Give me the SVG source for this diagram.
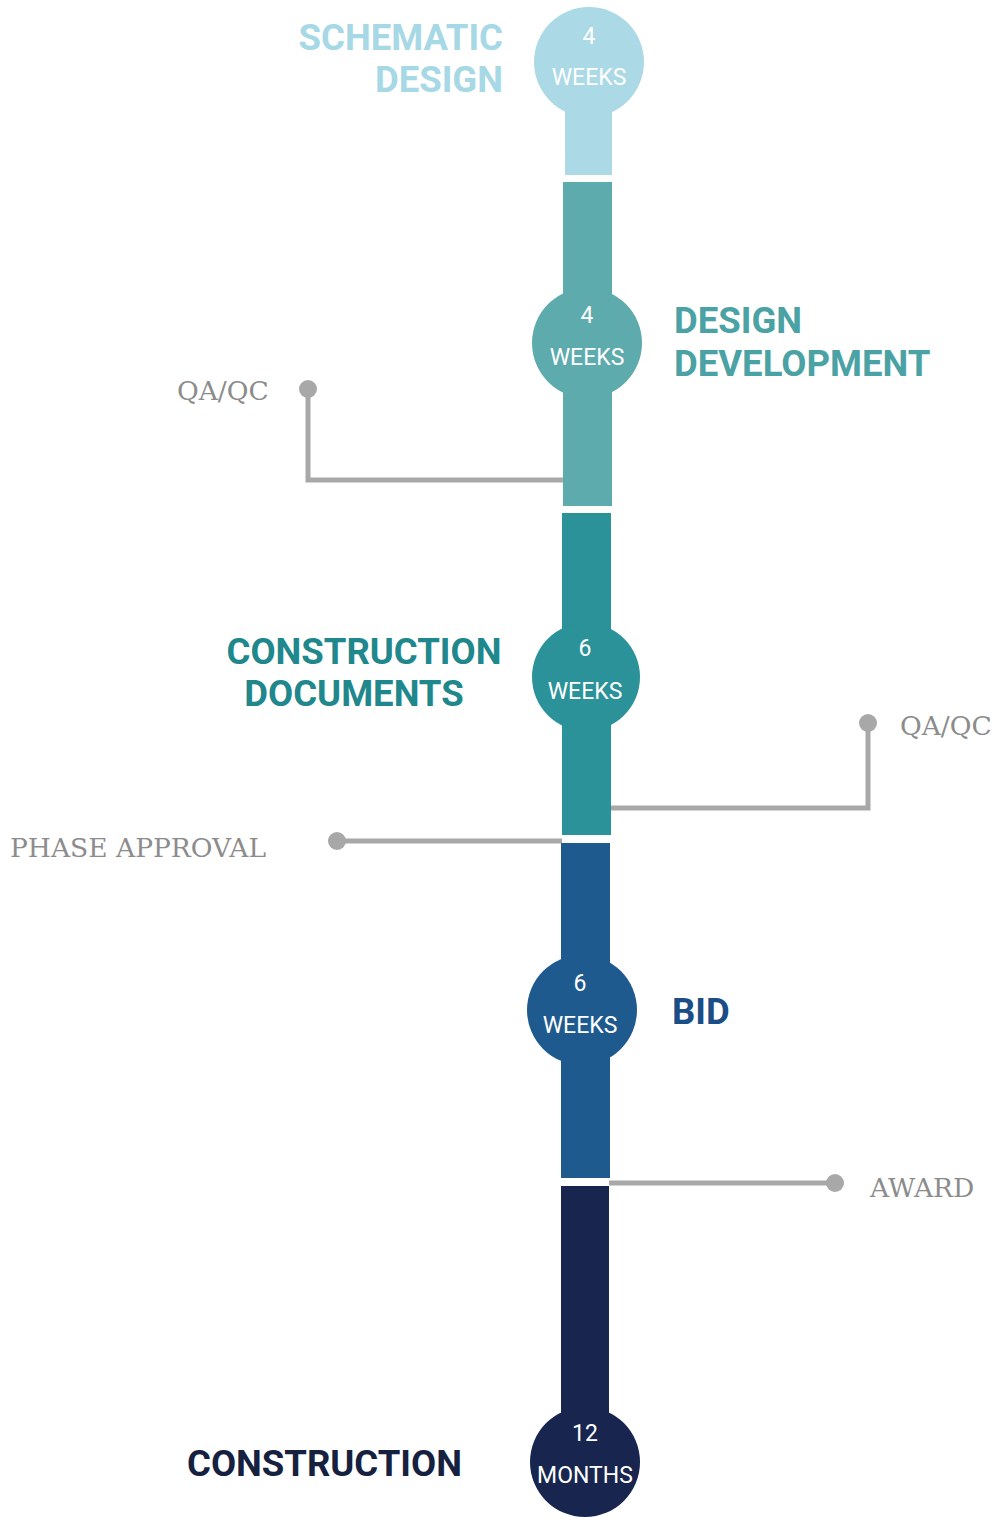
<svg xmlns="http://www.w3.org/2000/svg" width="994" height="1517" viewBox="0 0 994 1517">
<style>
.h{font-family:Roboto,"Liberation Sans",sans-serif;font-weight:700;font-size:36.5px}
.c{font-family:Roboto,"Liberation Sans",sans-serif;font-weight:400;font-size:23px;fill:#fff;text-anchor:middle}
.m{font-family:"DejaVu Serif","Liberation Serif",serif;font-weight:300;font-size:26.5px;fill:#8c8c8c}
.ln{fill:none;stroke:#a8a8a8;stroke-width:5}
.dot{fill:#a8a8a8}
</style>
<rect width="994" height="1517" fill="#fff"/>
<g id="connectors">
<path class="ln" d="M308,389 V480 H564"/>
<circle class="dot" cx="308" cy="389" r="9"/>
<path class="ln" d="M868,723 V808 H610"/>
<circle class="dot" cx="868" cy="723" r="9"/>
<path class="ln" d="M337,841 H562"/>
<circle class="dot" cx="337" cy="841" r="9"/>
<path class="ln" d="M609,1183 H835"/>
<circle class="dot" cx="835" cy="1183" r="9"/>
</g>
<g id="schematic">
<rect x="565" y="60" width="47" height="115" fill="#abd9e6"/>
<circle cx="589" cy="62" r="55" fill="#abd9e6"/>
<text class="c" x="589" y="44">4</text>
<text class="c" x="589" y="85">WEEKS</text>
<text class="h" x="503" y="50" text-anchor="end" fill="#a6d8e5" font-weight="500">SCHEMATIC</text>
<text class="h" x="503" y="92" text-anchor="end" fill="#a6d8e5" font-weight="500">DESIGN</text>
</g>
<g id="design-development">
<rect x="563" y="182" width="49" height="324" fill="#5eabad"/>
<circle cx="587" cy="343" r="55" fill="#5eabad"/>
<text class="c" x="587" y="323">4</text>
<text class="c" x="587" y="365">WEEKS</text>
<text class="h" x="674" y="333" fill="#4aa2a5" font-weight="500">DESIGN</text>
<text class="h" x="674" y="376" fill="#4aa2a5" font-weight="500">DEVELOPMENT</text>
</g>
<g id="construction-documents">
<rect x="562" y="513" width="49" height="322" fill="#2a9298"/>
<circle cx="586" cy="677" r="54" fill="#2a9298"/>
<text class="c" x="585" y="656">6</text>
<text class="c" x="585" y="699">WEEKS</text>
<text class="h" x="364" y="664" text-anchor="middle" fill="#20878c">CONSTRUCTION</text>
<text class="h" x="354" y="706" text-anchor="middle" fill="#20878c">DOCUMENTS</text>
</g>
<g id="bid">
<rect x="561" y="843" width="49" height="335" fill="#1f5a8f"/>
<circle cx="582" cy="1010" r="55" fill="#1f5a8f"/>
<text class="c" x="580" y="991">6</text>
<text class="c" x="580" y="1033">WEEKS</text>
<text class="h" x="672" y="1024" fill="#1b4e86">BID</text>
</g>
<g id="construction">
<rect x="561" y="1186" width="48" height="290" fill="#17254f"/>
<circle cx="585" cy="1462" r="55" fill="#17254f"/>
<text class="c" x="585" y="1441">12</text>
<text class="c" x="585" y="1483">MONTHS</text>
<text class="h" x="187" y="1476" fill="#15213f">CONSTRUCTION</text>
</g>
<g id="labels">
<text class="m" x="177" y="400">QA/QC</text>
<text class="m" x="900" y="735">QA/QC</text>
<text class="m" x="10" y="857">PHASE APPROVAL</text>
<text class="m" x="870" y="1197">AWARD</text>
</g>
</svg>
